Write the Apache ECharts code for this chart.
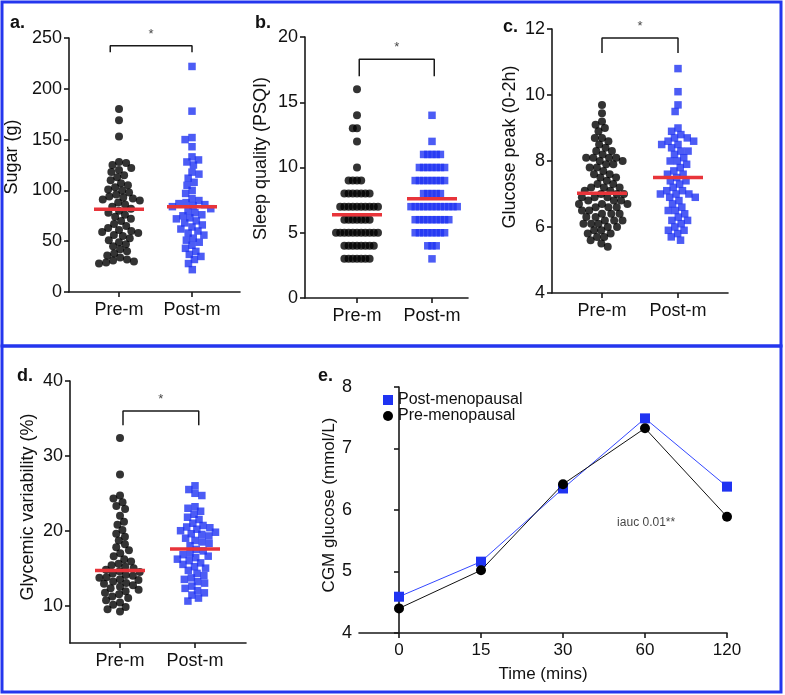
<!DOCTYPE html>
<html><head><meta charset="utf-8">
<script src="https://cdn.jsdelivr.net/npm/echarts@6/dist/echarts.min.js"></script>
<style>html,body{margin:0;padding:0;background:#fff}#c{width:785px;height:695px}</style>
</head><body><div id="c"></div>
<script>
// ---------------- DATA ----------------
const groups = ['Pre-m', 'Post-m'];
const sugarPre = [180,169,153,128,127,125,122,120,118,115,113,110,107,105,103,101,100,98,96,94,93,92,91,90,88,86,84,82,80,78,76,74,72,70,67,65,63,61,60,59,58,56,55,53,51,49,47,45,42,40,38,36,34,32,31,30,29,28];
const sugarPost = [222,178,152,150,143,133,130,128,125,118,116,112,108,105,100,97,92,90,88,87,86,85,84,82,80,78,76,75,73,72,70,68,66,64,62,60,58,56,53,51,49,46,43,40,37,35,32,28,22];
const sleepPre = [16,14,13,13,12,10,9,9,9,9,8,8,8,8,8,8,8,7,7,7,7,7,7,7,7,7,7,6,6,6,6,6,6,6,5,5,5,5,5,5,5,5,5,5,5,4,4,4,4,4,4,4,4,3,3,3,3,3,3,3];
const sleepPost = [14,12,11,11,11,11,11,10,10,10,10,10,10,10,9,9,9,9,9,9,9,9,8,8,8,8,8,7,7,7,7,7,7,7,7,7,7,7,7,6,6,6,6,6,6,6,6,6,5,5,5,5,5,5,5,5,4,4,4,3];
const peakPre = [9.7,9.45,9.2,9.1,9.0,8.9,8.7,8.7,8.6,8.5,8.4,8.3,8.3,8.2,8.1,8.1,8.1,8.1,8.0,8.0,7.9,7.9,7.8,7.8,7.7,7.6,7.6,7.5,7.5,7.4,7.3,7.3,7.2,7.2,7.2,7.1,7.1,7.0,7.0,7.0,6.9,6.9,6.9,6.8,6.8,6.8,6.7,6.7,6.7,6.6,6.6,6.6,6.5,6.5,6.4,6.4,6.4,6.3,6.3,6.2,6.2,6.2,6.1,6.1,6.1,6.0,6.0,5.9,5.9,5.8,5.8,5.7,5.7,5.6,5.5,5.4];
const peakPost = [10.8,10.1,9.7,9.5,9.0,8.9,8.8,8.7,8.7,8.6,8.6,8.5,8.5,8.4,8.3,8.3,8.2,8.1,8.0,8.0,7.9,7.8,7.7,7.6,7.6,7.5,7.4,7.4,7.3,7.2,7.1,7.1,7.0,7.0,7.0,6.9,6.9,6.8,6.7,6.6,6.5,6.5,6.4,6.3,6.2,6.2,6.1,6.0,5.9,5.9,5.8,5.7,5.6];
const gvPre = [32.4,27.5,24.7,24.3,23.8,23.3,22.9,22.0,21.2,20.8,20.1,19.6,19.2,18.7,18.2,17.8,17.4,17.0,16.6,16.2,15.9,15.6,15.4,15.2,15.0,14.8,14.6,14.5,14.3,14.1,14.0,13.8,13.7,13.5,13.4,13.2,13.0,12.9,12.7,12.5,12.3,12.1,11.9,11.7,11.5,11.2,11.0,10.7,10.4,10.1,9.8,9.5,9.2];
const gvPost = [26.0,25.5,25.0,24.7,23.2,23.0,22.6,22.2,21.8,21.5,21.0,20.7,20.5,20.4,20.2,20.0,19.8,19.6,19.5,19.3,19.0,18.7,18.5,18.3,18.0,17.5,17.3,17.0,16.8,16.6,16.4,16.2,16.0,15.7,15.5,15.2,15.0,14.7,14.3,14.0,13.7,13.5,13.2,13.0,12.6,12.3,12.0,11.7,11.4,11.0,10.6];
const sugarMeans = [81.4, 84.0];
const sleepMeans = [6.38, 7.61];
const peakMeans = [7.02, 7.5];
const gvMeans = [14.67, 17.55];
// significance brackets: [left x (group index), right x, lower y, upper y]
const sugarBracket = [0.88, 2, 236, 242.4];
const sleepBracket = [1.03, 2.03, 17.0, 18.3];
const peakBracket = [1, 2, 11.27, 11.73];
const gvBracket = [1.04, 2.05, 34.1, 36.0];
const sigLabel = '*';
const yTicksD = [10, 20, 30, 40];
const timeLabels = ['0', '15', '30', '60', '120'];
const cgmPost = [4.59, 5.16, 6.35, 7.49, 6.38];
const cgmPre = [4.40, 5.02, 6.42, 7.33, 5.89];
const iaucText = 'iauc 0.01**';
const iaucPos = [2.66, 5.79];

// ---------------- LAYOUT ----------------
const FF = 'Liberation Sans, Arial, Helvetica, sans-serif';
const BLUE = '#1f33f2';
const FRAME = '#2436ee';
const RED = '#e8343a';
const AX = '#1a1a1a';

const panels = [
  {key:'a', pre:sugarPre, post:sugarPost, means:sugarMeans, br:sugarBracket, name:'Sugar (g)', left:69, right:240, top:38, bottom:292, ymin:0, ymax:250, interval:50, cat:[119,192], gap:48, d:7.2, nameShift:8},
  {key:'b', pre:sleepPre, post:sleepPost, means:sleepMeans, br:sleepBracket, name:'Sleep quality (PSQI)', left:305, right:468, top:37, bottom:298, ymin:0, ymax:20, interval:5, cat:[357,432], gap:35, d:4.2, nameShift:9},
  {key:'c', pre:peakPre, post:peakPost, means:peakMeans, br:peakBracket, name:'Glucose peak (0-2h)', left:552, right:728, top:29, bottom:293, ymin:4, ymax:12, interval:2, cat:[602,678], gap:33, d:7.2, nameShift:14},
  {key:'d', pre:gvPre, post:gvPost, means:gvMeans, br:gvBracket, name:'Glycemic variability (%)', left:70, right:246, top:381, bottom:643, ymin:5, ymax:40, ticks:yTicksD, cat:[120,195], gap:33, d:7.2, nameShift:5}
];

function swarm(vals, ppu, d) {
  const placed = [], out = new Array(vals.length);
  const order = vals.map((v,i)=>i).sort((i,j)=>vals[j]-vals[i]);
  let flip = 1;
  for (const i of order) {
    const y = vals[i]*ppu;
    const near = placed.filter(p=>Math.abs(p.y-y) < d-1e-6);
    const cands = [0];
    near.forEach(p=>{const dx=Math.sqrt(d*d-(p.y-y)*(p.y-y)); cands.push(p.x+dx, p.x-dx);});
    cands.sort((a,b)=>(Math.abs(a)-Math.abs(b)) || (flip*(b-a)));
    let x = 0;
    for (const c of cands) {
      if (near.every(p=>(p.x-c)*(p.x-c)+(p.y-y)*(p.y-y) >= d*d-1e-3)) { x = c; break; }
    }
    flip = -flip;
    placed.push({x,y}); out[i] = x;
  }
  return out;
}

const grid = [], xAxis = [], yAxis = [], series = [];
const axisLineStyle = {lineStyle:{color:AX, width:1.6}};
panels.forEach((p, k) => {
  const sp = p.cat[1]-p.cat[0];
  const xmin = 1 - (p.cat[0]-p.left)/sp, xmax = 2 + (p.right-p.cat[1])/sp;
  const ppu = (p.bottom-p.top)/(p.ymax-p.ymin);
  grid.push({left:p.left, top:p.top, width:p.right-p.left, height:p.bottom-p.top, containLabel:false});
  xAxis.push({type:'value', gridIndex:k, min:xmin, max:xmax, splitLine:{show:false},
    axisLine:axisLineStyle, axisTick:{customValues:[1,2], length:5, lineStyle:{color:AX, width:1.6}},
    axisLabel:{customValues:[1,2], formatter:v=>groups[Math.round(v)-1], fontSize:18, fontFamily:FF, color:'#111', margin:9}});
  const yl = {type:'value', gridIndex:k, min:p.ymin, max:p.ymax, splitLine:{show:false},
    name:p.name, nameLocation:'middle', nameGap:p.gap, nameTextStyle:{fontSize:18, fontFamily:FF, color:'#111', padding:[0,0,0,2*p.nameShift]},
    axisLine:{show:true, lineStyle:{color:AX, width:1.6}},
    axisTick:{show:true, length:5, lineStyle:{color:AX, width:1.6}},
    axisLabel:{fontSize:18, fontFamily:FF, color:'#111', margin:7}};
  if (p.ticks) { yl.axisTick.customValues = p.ticks; yl.axisLabel.customValues = p.ticks; }
  else yl.interval = p.interval;
  yAxis.push(yl);
  [p.pre, p.post].forEach((vals, g) => {
    const offs = swarm(vals.map(v=>v-p.ymin), ppu, p.d);
    series.push({type:'scatter', xAxisIndex:k, yAxisIndex:k, silent:true,
      symbol: g===0 ? 'circle' : 'rect', symbolSize: g===0 ? 8 : 7.5,
      itemStyle:{color: g===0 ? '#000' : BLUE},
      data: vals.map((v,i)=>[g+1+offs[i]/sp, v]), z:2});
    const h = 25/sp;
    series.push({type:'line', xAxisIndex:k, yAxisIndex:k, silent:true, symbol:'none',
      lineStyle:{color:RED, width:3.5}, data:[[g+1-h, p.means[g]],[g+1+h, p.means[g]]], z:5});
  });
  const b = p.br;
  series.push({type:'line', xAxisIndex:k, yAxisIndex:k, silent:true, symbol:'none', clip:false,
    lineStyle:{color:AX, width:1.5}, data:[[b[0],b[2]],[b[0],b[3]],[b[1],b[3]],[b[1],b[2]]], z:4});
  series.push({type:'scatter', xAxisIndex:k, yAxisIndex:k, silent:true, symbolSize:0, clip:false,
    data:[[(b[0]+b[1])/2, b[3]]],
    label:{show:true, formatter:sigLabel, position:'top', distance:5, fontSize:13, fontFamily:FF, color:'#111'}});
});

// panel e
const ek = 4;
const eLeft = 359, eRight = 727, eFirst = 399, eStep = 82;
grid.push({left:eLeft, top:387, width:eRight-eLeft, height:633-387, containLabel:false});
xAxis.push({type:'value', gridIndex:ek, min:-(eFirst-eLeft)/eStep, max:(eRight-eFirst)/eStep, splitLine:{show:false},
  name:'Time (mins)', nameLocation:'middle', nameGap:33, nameTextStyle:{fontSize:17, fontFamily:FF, color:'#111'},
  axisLine:axisLineStyle, axisTick:{customValues:[0,1,2,3,4], length:5, lineStyle:{color:AX, width:1.6}},
  axisLabel:{customValues:[0,1,2,3,4], formatter:v=>timeLabels[Math.round(v)], fontSize:17, fontFamily:FF, color:'#111', margin:9}});
yAxis.push({type:'value', gridIndex:ek, min:4, max:8, interval:1, splitLine:{show:false},
  name:'CGM glucose (mmol/L)', nameLocation:'middle', nameGap:19, nameTextStyle:{fontSize:17, fontFamily:FF, color:'#111', padding:[0,0,0,10]},
  axisLine:{show:true, lineStyle:{color:AX, width:1.6}}, axisTick:{show:true, length:5, lineStyle:{color:AX, width:1.6}},
  axisLabel:{fontSize:18, fontFamily:FF, color:'#111', margin:7}});
series.push({type:'line', name:'Post-menopausal', xAxisIndex:ek, yAxisIndex:ek, symbol:'rect', symbolSize:10,
  itemStyle:{color:BLUE}, lineStyle:{color:'#3347ff', width:1}, data:cgmPost.map((v,i)=>[i,v]), z:3});
series.push({type:'line', name:'Pre-menopausal', xAxisIndex:ek, yAxisIndex:ek, symbol:'circle', symbolSize:10,
  itemStyle:{color:'#000'}, lineStyle:{color:'#111', width:1}, data:cgmPre.map((v,i)=>[i,v]), z:4});
series.push({type:'scatter', xAxisIndex:ek, yAxisIndex:ek, silent:true, symbolSize:0, data:[iaucPos],
  label:{show:true, formatter:iaucText, position:'right', distance:0, fontSize:12, fontFamily:FF, color:'#111'}});

const panelLetters = [['a.',10,14],['b.',255,14],['c.',503,18],['d.',17,367],['e.',318,367]];
const graphic = [
  {type:'rect', shape:{x:2,y:2,width:779,height:344}, style:{fill:'none', stroke:FRAME, lineWidth:3}, silent:true},
  {type:'rect', shape:{x:2,y:346,width:779,height:346}, style:{fill:'none', stroke:FRAME, lineWidth:3}, silent:true}
].concat(panelLetters.map(l=>({type:'text', left:l[1], top:l[2], style:{text:l[0], font:'bold 18px '+FF, fill:'#111'}})));

const chart = echarts.init(document.getElementById('c'), null, {renderer:'canvas'});
chart.setOption({
  animation:false, backgroundColor:'#fff',
  grid, xAxis, yAxis, series, graphic,
  legend:{show:true, orient:'vertical', left:378, top:387, itemGap:0, itemWidth:10, itemHeight:10,
    textStyle:{fontSize:16, fontFamily:FF, color:'#111', padding:[0,0,0,0]},
    data:[{name:'Post-menopausal', icon:'rect'}, {name:'Pre-menopausal', icon:'circle'}]}
});
</script></body></html>
